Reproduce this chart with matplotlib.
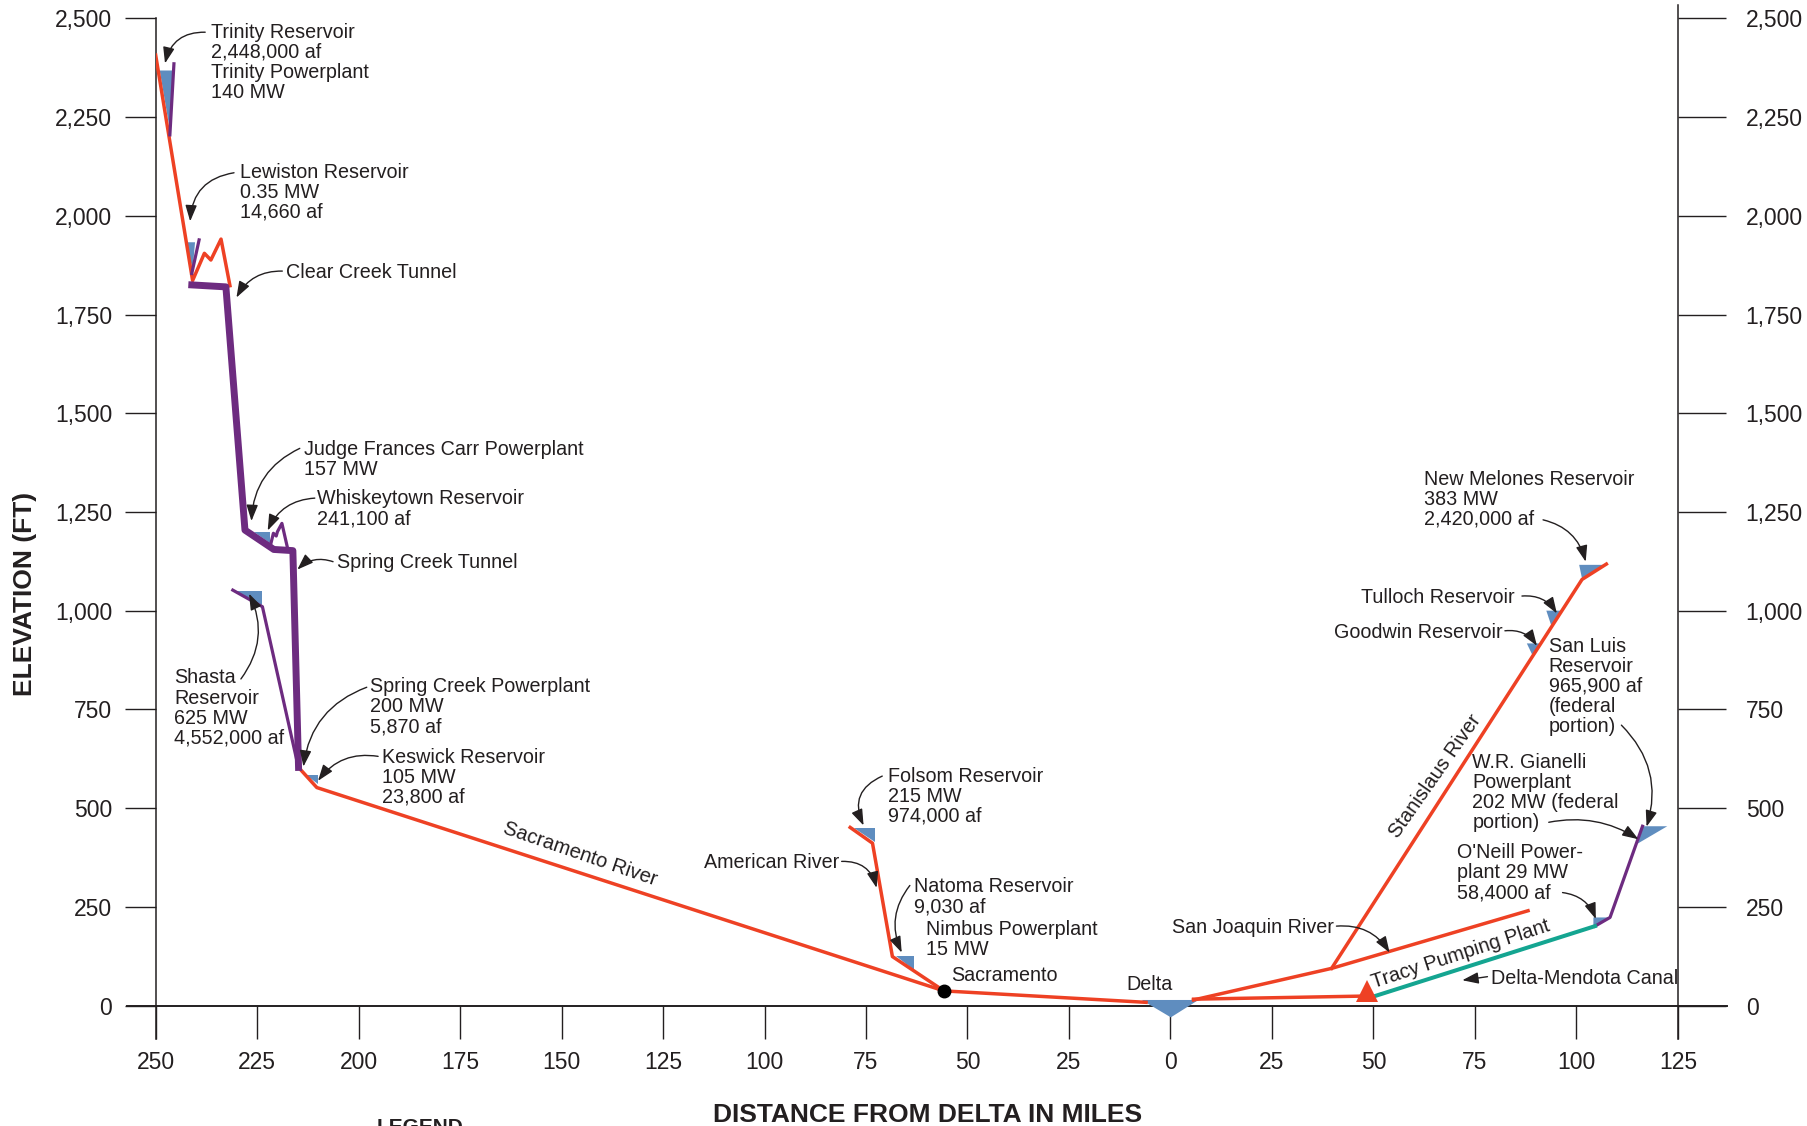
import matplotlib.pyplot as plt

plt.rcParams['font.family'] = ['Liberation Sans', 'DejaVu Sans']

RED = '#ee4124'
PURPLE = '#6d2b80'
BLUE = '#5f8dbf'
TEAL = '#14a591'
INK = '#231f20'

# miles from the Delta (north side negative), elevation in feet
trinity_mi = [-250, -240.9, -238.0, -236.4, -233.9, -231.7]
trinity_ft = [2407, 1836, 1905, 1888, 1941, 1823]
sacramento_mi = [-214.8, -210.3, -55.8, -6.0]
sacramento_ft = [603, 552, 37, 8]
american_mi = [-78.9, -73.4, -68.5, -55.8]
american_ft = [451, 411, 124, 37]
san_joaquin_mi = [5.7, 39.7, 88.1]
san_joaquin_ft = [14, 94, 240]
stanislaus_mi = [39.7, 101.4, 107.4]
stanislaus_ft = [94, 1079, 1118]
pump_mi = [5.7, 48.4]
pump_ft = [16, 24]

# powerplants / tunnels (purple)
trinity_pp_mi = [-245.5, -246.5]
trinity_pp_ft = [2385, 2205]
lewiston_pp_mi = [-239.3, -241.1]
lewiston_pp_ft = [1939, 1854]
tunnel_mi = [-241.1, -232.7, -228.0, -220.9, -216.2, -214.8]
tunnel_ft = [1825, 1820, 1204, 1155, 1152, 603]
whiskey_mi = [-221.8, -221.0, -220.3, -220.0, -218.9, -217.5]
whiskey_ft = [1162, 1196, 1189, 1200, 1221, 1158]
shasta_mi = [-231.0, -223.7, -214.8]
shasta_ft = [1052, 1010, 601]
san_luis_mi = [104.6, 108.3, 116.3]
san_luis_ft = [201, 223, 454]

# Delta-Mendota Canal
canal_mi = [50.4, 104.6]
canal_ft = [24, 201]

# reservoir pools: Trinity, Lewiston, Whiskeytown, Shasta, Keswick, Folsom,
# Natoma, Delta, Goodwin, Tulloch, New Melones, O'Neill, San Luis
pool_mi = [
    [-249.0, -245.9, -246.3],
    [-242.4, -240.3, -240.9],
    [-225.8, -221.9, -221.9],
    [-230.3, -223.7, -223.7],
    [-212.9, -210.1, -210.1],
    [-78.0, -72.8, -72.8],
    [-67.7, -63.1, -63.1],
    [-7.1, 6.9, 0.1],
    [87.8, 91.3, 89.2],
    [92.6, 96.6, 93.8],
    [100.7, 106.6, 101.4],
    [104.2, 108.3, 104.2],
    [116.5, 122.4, 115.1],
]
pool_ft = [
    [2368, 2368, 2205],
    [1933, 1933, 1863],
    [1200, 1200, 1172],
    [1050, 1050, 1014],
    [583, 583, 561],
    [450, 450, 415],
    [125, 125, 90],
    [14, 14, -30],
    [917, 917, 887],
    [1000, 1000, 963],
    [1116, 1116, 1081],
    [223, 223, 201],
    [454, 454, 410],
]

sacramento_city = (-55.8, 37)
tracy_plant = (48.4, 37)

xticks = list(range(-250, 126, 25))
yticks = list(range(0, 2501, 250))

fig = plt.figure(figsize=(18.08, 11.26), dpi=100)
ax = fig.add_axes([0.0861, 0.0777, 0.8419, 0.9179])
ax.set_xlim(-250, 125)
ax.set_ylim(-83.6, 2534)

for xs, ys in zip(pool_mi, pool_ft):
    ax.fill(xs, ys, color=BLUE, lw=0, zorder=2)

for xs, ys in [(trinity_mi, trinity_ft), (sacramento_mi, sacramento_ft),
               (american_mi, american_ft), (san_joaquin_mi, san_joaquin_ft),
               (stanislaus_mi, stanislaus_ft), (pump_mi, pump_ft)]:
    ax.plot(xs, ys, color=RED, lw=2.5, zorder=3)

for xs, ys in [(trinity_pp_mi, trinity_pp_ft), (lewiston_pp_mi, lewiston_pp_ft),
               (shasta_mi, shasta_ft), (san_luis_mi, san_luis_ft),
               (whiskey_mi, whiskey_ft)]:
    ax.plot(xs, ys, color=PURPLE, lw=2.3, zorder=3)
ax.plot(tunnel_mi, tunnel_ft, color=PURPLE, lw=5, zorder=3)
ax.plot(canal_mi, canal_ft, color=TEAL, lw=2.9, zorder=3)

ax.plot(*sacramento_city, 'o', color='black', ms=9, zorder=4)
ax.plot(*tracy_plant, '^', color=RED, ms=16, mew=0, zorder=4)

# axes look
ax.axhline(0, xmin=-0.0189, xmax=1.032, color=INK, lw=1.4, clip_on=False, zorder=1)
for s in ['top', 'bottom', 'right']:
    ax.spines[s].set_visible(False)
ax.spines['left'].set_bounds(-83.6, 2500)
ax.spines['left'].set_color(INK)
ax.spines['left'].set_linewidth(1.1)

ax.set_xticks(xticks)
ax.set_xticklabels([str(abs(t)) for t in xticks])
ax.tick_params(axis='x', direction='in', length=23.8, width=1.0, pad=9,
               labelsize=16.5, colors=INK)
ax.set_yticks(yticks)
ax.set_yticklabels([f'{t:,}' for t in yticks])
ax.tick_params(axis='y', direction='out', length=22.3, width=1.0, pad=9,
               labelsize=16.5, colors=INK)

ax_r = ax.secondary_yaxis('right')
ax_r.set_yticks(yticks)
ax_r.set_yticklabels([f'{t:,}' for t in yticks])
ax_r.tick_params(direction='out', length=34.5, width=1.0, pad=14.4,
                 labelsize=16.5, colors=INK)
ax_r.spines['right'].set_color(INK)
ax_r.spines['right'].set_linewidth(1.1)

fig.text(0.0138, 0.4725, 'ELEVATION (FT)', rotation=90, fontsize=19,
         fontweight='bold', ha='center', va='center', color=INK)
fig.text(0.513, 0.0036, 'DISTANCE FROM DELTA IN MILES', fontsize=19,
         fontweight='bold', ha='center', va='baseline', color=INK)
fig.text(0.2085, -0.006, 'LEGEND', fontsize=15, fontweight='bold',
         va='baseline', color=INK)

# labels, y given as baseline of the first line
fs = 14.2
step = 49.6  # one text line in ft
def label(x, y, s, ha='left'):
    n = s.count('\n')
    ax.text(x, y - n * step, s, fontsize=fs, ha=ha, va='baseline',
            linespacing=1.07, color=INK, zorder=5)

label(-236.4, 2447, 'Trinity Reservoir\n2,448,000 af\nTrinity Powerplant\n140 MW')
label(-229.3, 2094, 'Lewiston Reservoir\n0.35 MW\n14,660 af')
label(-217.9, 1843, 'Clear Creek Tunnel')
label(-213.4, 1393, 'Judge Frances Carr Powerplant\n157 MW')
label(-210.2, 1268, 'Whiskeytown Reservoir\n241,100 af')
label(-205.4, 1107, 'Spring Creek Tunnel')
label(-245.5, 812, 'Shasta\nReservoir\n625 MW\n4,552,000 af')
label(-197.2, 791, 'Spring Creek Powerplant\n200 MW\n5,870 af')
label(-194.3, 613, 'Keswick Reservoir\n105 MW\n23,800 af')
label(-69.6, 564, 'Folsom Reservoir\n215 MW\n974,000 af')
label(-81.5, 348, 'American River', ha='right')
label(-63.1, 286, 'Natoma Reservoir\n9,030 af')
label(-60.2, 178, 'Nimbus Powerplant\n15 MW')
label(-54.0, 61, 'Sacramento')
label(-5.1, 38, 'Delta', ha='center')
label(40.3, 184, 'San Joaquin River', ha='right')
label(62.5, 1317, 'New Melones Reservoir\n383 MW\n2,420,000 af')
label(84.7, 1019, 'Tulloch Reservoir', ha='right')
label(81.8, 932, 'Goodwin Reservoir', ha='right')
label(93.2, 891, 'San Luis\nReservoir\n965,900 af\n(federal\nportion)')
label(74.4, 599, 'W.R. Gianelli\nPowerplant\n202 MW (federal\nportion)')
label(70.5, 371, "O'Neill Power-\nplant 29 MW\n58,4000 af")
label(79.0, 55, 'Delta-Mendota Canal')

ax.text(-145.5, 383, 'Sacramento River', fontsize=14.5, rotation=-19,
        rotation_mode='anchor', ha='center', va='center', color=INK)
ax.text(65.3, 581, 'Stanislaus River', fontsize=14.5, rotation=55,
        rotation_mode='anchor', ha='center', va='center', color=INK)
ax.text(71.6, 131, 'Tracy Pumping Plant', fontsize=14.5, rotation=18,
        rotation_mode='anchor', ha='center', va='center', color=INK)

# leader arrows: (start, tip, curvature)
arrows = [
    ((-237.8, 2465), (-247.7, 2386), 0.4),
    ((-230.7, 2109), (-241.5, 1986), 0.4),
    ((-218.8, 1860), (-230.1, 1793), 0.3),
    ((-214.5, 1411), (-226.4, 1227), 0.3),
    ((-210.8, 1285), (-222.4, 1203), 0.3),
    ((-206.3, 1124), (-215.1, 1104), 0.3),
    ((-229.0, 827), (-227.0, 1043), 0.3),
    ((-198.0, 806), (-213.6, 605), 0.3),
    ((-195.2, 631), (-210.0, 569), 0.3),
    ((-71.0, 581), (-75.6, 456), 0.5),
    ((-81.0, 365), (-72.4, 298), -0.4),
    ((-64.2, 304), (-66.2, 134), 0.3),
    ((40.9, 201), (54.0, 134), -0.3),
    ((91.8, 1230), (102.3, 1124), -0.3),
    ((86.6, 1037), (95.2, 993), -0.3),
    ((82.4, 949), (90.3, 911), -0.3),
    ((111.1, 710), (117.3, 453), -0.3),
    ((93.2, 464), (115.3, 421), -0.2),
    ((96.6, 286), (104.8, 219), -0.3),
    ((78.1, 73), (71.9, 64), 0.0),
]
for start, tip, rad in arrows:
    ax.annotate('', xy=tip, xytext=start, zorder=5,
                arrowprops=dict(arrowstyle='-|>,head_length=0.7,head_width=0.25',
                                color=INK, lw=1.0, mutation_scale=14,
                                shrinkA=0, shrinkB=0,
                                connectionstyle=f'arc3,rad={rad}'))

fig.savefig('out.png', dpi=100)
